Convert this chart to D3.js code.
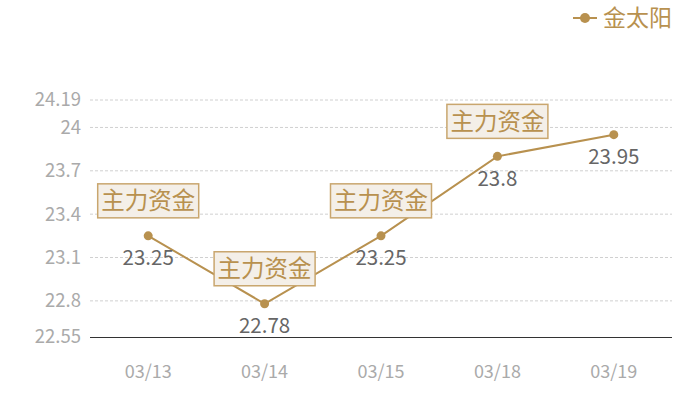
<!DOCTYPE html>
<html><head><meta charset="utf-8">
<script src="https://cdn.jsdelivr.net/npm/d3@7/dist/d3.min.js"></script>
<style>body{margin:0;background:#fff}svg{display:block}</style>
</head><body><svg id="c" width="700" height="400"></svg>
<script>
const categories = ["03/13","03/14","03/15","03/18","03/19"];
const values = [23.25, 22.78, 23.25, 23.8, 23.95];
const markLabels = ["主力资金","主力资金","主力资金","主力资金",null];
const yTicks = [22.55, 22.8, 23.1, 23.4, 23.7, 24, 24.19];
const seriesName = "金太阳";

const W=700,H=400, m={l:90,r:28,t:100,b:63};
const color="#b8914f";
const font="'Noto Sans CJK SC','Noto Sans',sans-serif";
const svg=d3.select("#c");
const x=d3.scaleBand().domain(categories).range([m.l,W-m.r]);
const y=d3.scaleLinear().domain([22.55,24.19]).range([H-m.b,m.t]);
const cx=d=>x(d)+x.bandwidth()/2;

svg.append("g").selectAll("line").data(yTicks.filter(t=>t!==22.55)).join("line")
 .attr("x1",m.l).attr("x2",W-m.r).attr("y1",d=>y(d)).attr("y2",d=>y(d))
 .attr("stroke","#d0d0d0").attr("stroke-dasharray","3,2").attr("stroke-width",1);
svg.append("line").attr("x1",m.l).attr("x2",W-m.r).attr("y1",y(22.55)+0.5).attr("y2",y(22.55)+0.5)
 .attr("stroke","#333").attr("stroke-width",1);
svg.append("g").selectAll("text").data(yTicks).join("text")
 .attr("x",m.l-9).attr("y",d=>y(d)).attr("dy","0.35em").attr("text-anchor","end")
 .attr("font-family",font).attr("font-size",18.5).attr("fill","#aaa").text(d=>d);
svg.append("g").selectAll("text").data(categories).join("text")
 .attr("x",d=>cx(d)).attr("y",H-m.b+35).attr("dy","0.35em").attr("text-anchor","middle")
 .attr("font-family",font).attr("font-size",18).attr("fill","#aaa").text(d=>d);

const data=categories.map((c,i)=>({c,v:values[i],l:markLabels[i]}));
svg.append("path").datum(data).attr("fill","none").attr("stroke",color).attr("stroke-width",2)
 .attr("d",d3.line().x(d=>cx(d.c)).y(d=>y(d.v)));
svg.append("g").selectAll("circle").data(data).join("circle")
 .attr("cx",d=>cx(d.c)).attr("cy",d=>y(d.v)).attr("r",4.5).attr("fill",color);
svg.append("g").selectAll("text").data(data).join("text")
 .attr("x",d=>cx(d.c)).attr("y",d=>y(d.v)+22).attr("dy","0.35em").attr("text-anchor","middle")
 .attr("font-family",font).attr("font-size",20.5).attr("fill","#666").text(d=>d.v);
const ann=svg.append("g").selectAll("g").data(data.filter(d=>d.l)).join("g")
 .attr("transform",d=>`translate(${cx(d.c)},${y(d.v)-18})`);
ann.append("rect").attr("x",-50.5).attr("y",-34).attr("width",101).attr("height",34)
 .attr("fill","#f4efe8").attr("stroke","#c9a66e").attr("stroke-width",1.5);
ann.append("text").attr("x",0).attr("y",-17).attr("dy","0.35em").attr("text-anchor","middle")
 .attr("font-family",font).attr("font-size",23.5).attr("fill",color).text(d=>d.l);
const lg=svg.append("g").attr("transform","translate(573,18)");
lg.append("line").attr("x1",0).attr("x2",24).attr("stroke",color).attr("stroke-width",2);
lg.append("circle").attr("cx",12).attr("r",5).attr("fill",color);
lg.append("text").attr("x",30).attr("dy","0.35em").attr("font-family",font).attr("font-size",23)
 .attr("fill",color).text(seriesName);
</script></body></html>
